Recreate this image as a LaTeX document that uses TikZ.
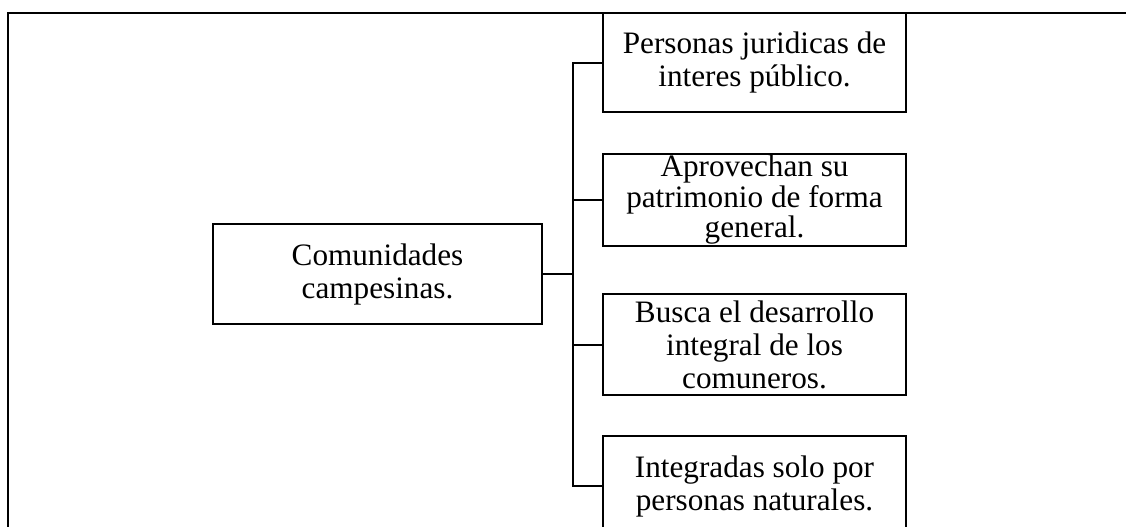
\documentclass[tikz,border=0pt]{standalone}
\usepackage{fontspec}
\setmainfont{Liberation Serif}
\begin{document}
\begin{tikzpicture}[x=0.75pt,y=0.75pt,yscale=-1,
  box/.style={draw, line width=1.5pt, rectangle, inner sep=0pt, align=center,
    font=\fontsize{23.4}{24.75}\selectfont},
  sidebox/.style={box, minimum width=227.25pt},
  link/.style={line width=1.5pt},
  frame/.style={line width=1.4pt}]
\useasboundingbox (0,0) rectangle (1126,526);
\clip (0,0) rectangle (1126,526);
\draw[frame] (8,540) -- (8,13) -- (1140,13);
\node[box, minimum width=246.4pt, minimum height=75pt] (m) at (377.5,274) {Comunidades\\campesinas.};
\node[sidebox, minimum height=74.25pt] (b1) at (754.5,62.5) {Personas juridicas de\\interes público.};
\node[sidebox, minimum height=69pt, font=\fontsize{23.4}{22.9}\selectfont] (b2) at (754.5,200) {Aprovechan su\\patrimonio de forma\\general.};
\node[sidebox, minimum height=75.4pt] (b3) at (754.5,344.5) {Busca el desarrollo\\integral de los\\comuneros.};
\node[sidebox, minimum height=75pt] (b4) at (754.5,486) {Integradas solo por\\personas naturales.};
\coordinate (j) at (573,274);
\draw[link] (m.east) -- (j);
\draw[link] (b1.west) -- (b1.west -| j) -- (b4.west -| j) -- (b4.west);
\draw[link] (b2.west) -- (b2.west -| j);
\draw[link] (b3.west) -- (b3.west -| j);
\end{tikzpicture}
\end{document}
